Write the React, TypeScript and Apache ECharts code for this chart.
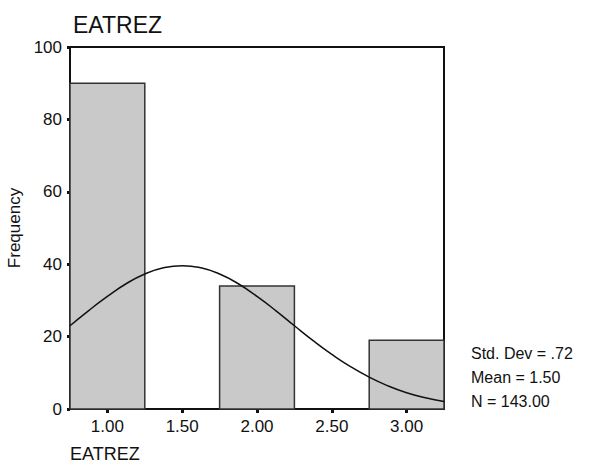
import React, { useEffect, useRef } from "react";
import * as echarts from "echarts";

const chartTitle = "EATREZ";
const xAxisTitle = "EATREZ";
const yAxisTitle = "Frequency";

const binStarts = [0.75, 1.75, 2.75];
const binEnds = [1.25, 2.25, 3.25];
const counts = [90, 34, 19];

const xTickValues = [1.0, 1.5, 2.0, 2.5, 3.0];

// normal curve (Mean 1.50, Std. Dev .72, N 143)
const curveX = [0.75, 0.875, 1.0, 1.125, 1.25, 1.375, 1.5, 1.625, 1.75, 1.875, 2.0, 2.125, 2.25, 2.375, 2.5, 2.625, 2.75, 2.875, 3.0, 3.125, 3.25];
const curveY = [23.0, 27.2, 31.1, 34.6, 37.3, 39.0, 39.6, 39.0, 37.3, 34.6, 31.1, 27.2, 23.0, 18.9, 15.1, 11.7, 8.8, 6.4, 4.5, 3.1, 2.1];

const statLines = ["Std. Dev = .72", "Mean = 1.50", "N = 143.00"];

const FONT = "Liberation Sans, Arial, sans-serif";

export default function App() {
  const ref = useRef<HTMLDivElement>(null);
  useEffect(() => {
    if (!ref.current) return;
    const chart = echarts.init(ref.current, null, { renderer: "svg" });
    const barData = binStarts.map((s, i) => [s, binEnds[i], counts[i]]);
    chart.setOption({
      animation: false,
      backgroundColor: "#fff",
      title: {
        text: chartTitle,
        left: 68,
        top: 8,
        textStyle: { fontFamily: FONT, fontSize: 23, fontWeight: "normal", color: "#111" },
      },
      grid: {
        left: 70,
        right: 147,
        top: 47,
        bottom: 54,
        containLabel: false,
        outerBoundsMode: "none",
        show: true,
        borderColor: "#111",
        borderWidth: 2,
        backgroundColor: "transparent",
      },
      xAxis: {
        type: "value",
        min: 0.75,
        max: 3.25,
        splitLine: { show: false },
        axisLine: { show: true, lineStyle: { color: "#111", width: 2 } },
        axisTick: {
          show: true,
          customValues: xTickValues,
          length: 4,
          lineStyle: { color: "#111", width: 3 },
        },
        axisLabel: {
          customValues: xTickValues,
          formatter: (v: number) => v.toFixed(2),
          fontFamily: FONT,
          fontSize: 17,
          color: "#111",
          margin: 9,
        },
      },
      yAxis: {
        type: "value",
        min: 0,
        max: 100,
        interval: 20,
        name: yAxisTitle,
        nameLocation: "middle",
        nameRotate: 90,
        nameGap: 45,
        nameTextStyle: { fontFamily: FONT, fontSize: 17, color: "#111" },
        splitLine: { show: false },
        axisLine: { show: true, lineStyle: { color: "#111", width: 2 } },
        axisTick: { show: true, length: 3, lineStyle: { color: "#111", width: 3 } },
        axisLabel: { fontFamily: FONT, fontSize: 17, color: "#111", margin: 8 },
      },
      graphic: [
        {
          type: "text",
          left: 70,
          top: 445,
          style: { text: xAxisTitle, font: `18px ${FONT}`, fill: "#111" },
        },
        ...statLines.map((t, i) => ({
          type: "text",
          left: 471,
          top: 345 + i * 24,
          style: { text: t, font: `16px ${FONT}`, fill: "#111" },
        })),
      ],
      series: [
        {
          type: "custom",
          data: barData,
          encode: { x: [0, 1], y: 2 },
          renderItem: (params: any, api: any) => {
            const p0 = api.coord([api.value(0), api.value(2)]);
            const p1 = api.coord([api.value(1), 0]);
            return {
              type: "rect",
              shape: { x: p0[0], y: p0[1], width: p1[0] - p0[0], height: p1[1] - p0[1] },
              style: { fill: "#c9c9c9", stroke: "#333", lineWidth: 1.5 },
            };
          },
          z: 1,
        },
        {
          type: "line",
          data: curveX.map((x, i) => [x, curveY[i]]),
          smooth: true,
          showSymbol: false,
          lineStyle: { color: "#111", width: 1.5 },
          z: 3,
        },
      ],
    });
    return () => chart.dispose();
  }, []);
  return (
    <div
      ref={ref}
      style={{ position: "absolute", left: 0, top: 0, width: 591, height: 463 }}
    />
  );
}
